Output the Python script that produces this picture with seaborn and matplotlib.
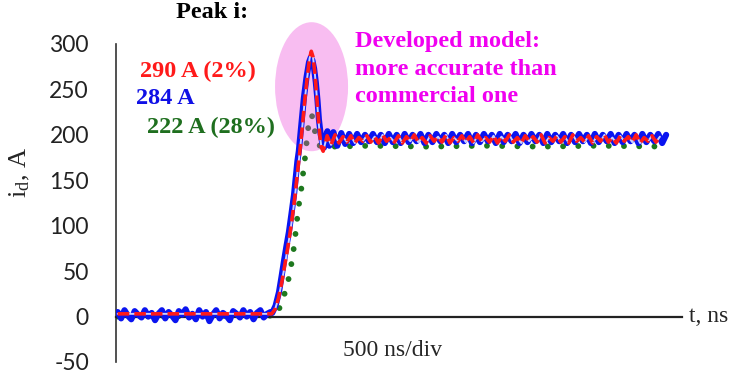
import numpy as np
import pandas as pd
import seaborn as sns
import matplotlib.pyplot as plt
from matplotlib.patches import Ellipse

# measured current i_d (A) vs time (ns)
blue_flat = [5, -2, 7, 1, -3, 6, 2, -1, 7, 0, 4, -4, 3, 7, -2, 5, 1, -4, 6, 2, 8, -1, 3,
             -3, 7, 0, 5, -5, 2, 7, -2, 4, 1, -4, 6, 3, -1, 7, 0, 5, -3, 4, 7, -1, 3, 5]
blue_rise_t = [552, 564, 576, 585, 593, 602, 611, 620, 629, 636, 641, 646, 655, 664, 673,
               682, 688, 694, 700, 706, 712, 717, 723, 729, 735, 741, 747]
blue_rise_i = [4, 12, 27, 44, 60, 77, 93, 113, 134, 155, 171, 182, 212, 241, 263,
               280, 285, 282, 273, 258, 238, 217, 201, 191, 186, 198, 204]
blue_steady = [188, 203, 188, 202, 190, 201, 191, 201, 192, 200,
               193, 201, 192, 200, 191, 201, 192, 200, 191, 201,
               192, 200, 193, 201, 191, 200, 192, 201, 193, 200,
               191, 201, 192, 200, 193, 201, 191, 200, 192, 201,
               193, 200, 191, 201, 192, 200, 193, 201, 191, 200,
               192, 201, 193, 200, 191, 201, 192, 200, 193, 201,
               191, 200, 192, 201, 193, 200, 191, 201, 192, 200,
               193, 201, 191, 200, 192, 201, 193, 200, 191, 201,
               192, 200, 193, 201, 191, 200]

# developed model
red_t = [6, 550, 562, 574, 586, 596, 606, 615, 624, 633, 641, 649, 658, 667, 676, 684,
         690, 696, 702, 708, 714, 720, 726, 732]
red_i = [3, 3, 8, 20, 38, 56, 74, 92, 112, 134, 158, 180, 208, 238, 264, 284,
         292, 286, 270, 248, 222, 200, 186, 182]
red_steady = [199, 189, 200, 191, 198, 192, 199, 191, 197, 193, 199, 192, 198, 191, 200,
              193, 197, 192, 199, 191, 198, 193, 200, 192, 197, 191, 199, 193, 198, 192,
              200, 191, 197, 193, 199, 192, 198, 191, 200, 193, 197, 192, 199, 191, 198,
              193, 200, 192, 197, 191, 199, 193, 198, 192, 200, 191, 197, 193, 199, 192,
              198, 191, 200, 193, 197, 192, 199, 191, 198, 193, 200, 192, 197, 191, 199,
              193, 198, 192, 200, 191, 197, 193, 199, 192, 198]

# commercial model
green_t = [6, 570, 580, 590, 600, 611, 621, 629, 635, 641, 648, 656, 662, 668, 674, 680,
           686, 692, 698, 704, 710, 720, 760, 900, 1100, 1300, 1500, 1700, 1948]
green_i = [0, 1, 12, 20, 29, 43, 60, 77, 93, 110, 127, 143, 160, 175, 193, 210,
           218, 222, 212, 202, 195, 188, 187, 188, 187, 188, 187, 188, 187]

y_ticks = [-50, 0, 50, 100, 150, 200, 250, 300]
x_ticks = [500, 1000, 1500]

t_blue = np.concatenate([6 + 12 * np.arange(len(blue_flat)), blue_rise_t,
                         754 + 14 * np.arange(len(blue_steady))])
i_blue = np.concatenate([blue_flat, blue_rise_i, blue_steady])
t_red = np.concatenate([red_t, 746 + 14 * np.arange(len(red_steady))])
i_red = np.concatenate([red_i, red_steady])

df_blue = pd.DataFrame({"t": t_blue, "i": i_blue})
df_red = pd.DataFrame({"t": t_red, "i": i_red})
df_green = pd.DataFrame({"t": green_t, "i": green_i})

sns.set_style("white")
plt.rcParams['font.family'] = ['Liberation Serif', 'DejaVu Serif']
plt.rcParams['mathtext.fontset'] = 'custom'
plt.rcParams['mathtext.rm'] = 'Liberation Serif'
plt.rcParams['mathtext.it'] = 'Liberation Serif:italic'
plt.rcParams['axes.unicode_minus'] = False

W, H = 733, 374
fig = plt.figure(figsize=(W / 100, H / 100), dpi=100)
ax = fig.add_axes([116 / W, 1 - 362 / H, 566 / W, 318 / H])

sns.lineplot(data=df_green, x="t", y="i", ax=ax, color="#1e781e", lw=4.2,
             linestyle=(0, (0.01, 2.6)), dash_capstyle="round", estimator=None, zorder=2)
ax.add_patch(Ellipse((691, 253), width=258, height=142, facecolor="#ed42d9",
                     alpha=0.35, edgecolor="none", zorder=3, clip_on=False))
sns.lineplot(data=df_blue, x="t", y="i", ax=ax, color="#0a14f0", lw=4.4,
             estimator=None, zorder=4)
ax.plot(t_red, i_red, color="white", lw=1.4, zorder=5, alpha=0.8)
sns.lineplot(data=df_red, x="t", y="i", ax=ax, color="#ff1a1a", lw=2.6,
             dashes=False, linestyle=(0, (3.2, 1.4)), estimator=None, zorder=6)

ax.set_xlim(0, 2000)
ax.set_ylim(-50, 300)
ax.set_xlabel("")
ax.set_ylabel("")
for s in ["top", "right"]:
    ax.spines[s].set_visible(False)
ax.spines["bottom"].set_position(("data", 0))
ax.spines["bottom"].set_color("#222222")
ax.spines["bottom"].set_linewidth(1.6)
ax.spines["left"].set_color("#333333")
ax.spines["left"].set_linewidth(1.2)

ax.set_yticks(y_ticks)
ax.set_xticks(x_ticks)
ax.set_xticklabels([])
ax.tick_params(axis="y", direction="out", length=6.5, width=1.2, color="#333333",
               pad=13, labelsize=16.5, labelcolor="#222222")
ax.tick_params(axis="x", direction="out", length=4.5, width=1.2, color="#333333")
for lab in ax.get_yticklabels():
    lab.set_fontfamily(["Lato", "DejaVu Sans"])

def fx(px):
    return px / W

def fy(py):
    return 1 - py / H

fig.text(fx(20), fy(172), r"i$_{\mathrm{d}}$, A", rotation=90, fontsize=19,
         ha="center", va="center")
fig.text(fx(689), fy(316), "t, ns", fontsize=17, ha="left", va="center")
fig.text(fx(393), fy(350), "500 ns/div", fontsize=17, ha="center", va="center")

fig.text(fx(212), fy(12), "Peak i:", fontsize=17.5, fontweight="bold", ha="center",
         va="center", color="black")
fig.text(fx(140), fy(71), "290 A (2%)", fontsize=17.5, fontweight="bold", ha="left",
         va="center", color="#ff1a1a")
fig.text(fx(136), fy(98), "284 A", fontsize=17.5, fontweight="bold", ha="left",
         va="center", color="#1010e6")
fig.text(fx(147), fy(127), "222 A (28%)", fontsize=17.5, fontweight="bold", ha="left",
         va="center", color="#1f6f1f")
for k, line in enumerate(["Developed model:", "more accurate than", "commercial one"]):
    fig.text(fx(355), fy(42 + 27.5 * k), line, fontsize=17.5, fontweight="bold",
             ha="left", va="center", color="#f000f0")

fig.savefig("out.png", dpi=100)
